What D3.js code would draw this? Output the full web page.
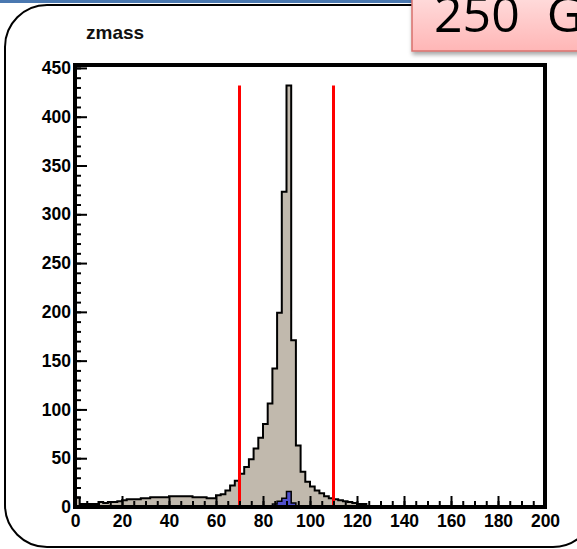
<!DOCTYPE html>
<html>
<head>
<meta charset="UTF-8">
<title>zmass</title>
<style>
  * { margin: 0; padding: 0; }
  body { background: #fff; width: 577px; height: 549px; overflow: hidden; }
  svg { display: block; }
  .tick text { font-family: "Liberation Sans", Arial, sans-serif; font-weight: bold; font-size: 17.5px; fill: #000; }
</style>
</head>
<body>
<svg id="chart" width="577" height="549"></svg>
<script src="https://d3js.org/d3.v7.min.js"></script>
<script>
// bin edges run 0..200 in steps of 2 GeV (100 bins)
const binLow = d3.range(0, 200, 2);
const allEvents = [
  10, 3, 3, 3, 3, 5, 4, 5, 5, 6,
  7, 8, 8, 8, 9, 9, 10, 10, 10, 10,
  11, 11, 11, 11, 11, 10, 10, 10, 9, 9,
  12, 13, 17, 22, 27, 34, 41, 49, 60, 71,
  85, 106, 142, 199, 323, 432, 171, 63, 36, 26,
  21, 17, 14, 11, 9, 8, 7, 6, 5, 4,
  3, 3, 1, 0, 0, 0, 0, 0, 0, 0,
  0, 0, 0, 0, 0, 0, 0, 0, 0, 0,
  0, 0, 0, 0, 0, 0, 0, 0, 0, 0,
  0, 0, 0, 0, 0, 0, 0, 0, 0, 0
];
// signal component, bins 80..96
const signalLow = [80, 82, 84, 86, 88, 90, 92, 94, 96];
const signalEvents = [0, 1, 3, 6, 9, 16, 4, 1, 0];
const cuts = [70, 110];
const xTicks = [0, 20, 40, 60, 80, 100, 120, 140, 160, 180, 200];
const yTicks = [0, 50, 100, 150, 200, 250, 300, 350, 400, 450];
const yMax = 453;
const title = "zmass";
const badge = "250 G";

const svg = d3.select("#chart");

// slide decoration
svg.append("rect").attr("x", 0).attr("y", 0).attr("width", 577).attr("height", 3).attr("fill", "#4a78b0");
const defs = svg.append("defs");
const sh = defs.append("filter").attr("id", "shadow").attr("x", "-10%").attr("y", "-10%").attr("width", "130%").attr("height", "140%");
sh.append("feDropShadow").attr("dx", 1).attr("dy", 3).attr("stdDeviation", 2).attr("flood-color", "#000").attr("flood-opacity", 0.35);
const pink = defs.append("linearGradient").attr("id", "pink").attr("x1", 0).attr("y1", 0).attr("x2", 0).attr("y2", 1);
pink.append("stop").attr("offset", "0%").attr("stop-color", "#ffdcdc");
pink.append("stop").attr("offset", "100%").attr("stop-color", "#ffb6b6");

svg.append("rect")
  .attr("x", 5).attr("y", 5).attr("width", 590).attr("height", 542)
  .attr("rx", 42).attr("ry", 42)
  .attr("fill", "#fff").attr("stroke", "#000").attr("stroke-width", 2);

const m = { left: 75, right: 545, top: 65, bottom: 507 };

const x = d3.scaleLinear().domain([0, 200]).range([m.left, m.right]);
const y = d3.scaleLinear().domain([0, yMax]).range([m.bottom, m.top]);

function steps(lows, vals) {
  const pts = lows.map((b, i) => [b, vals[i]]);
  pts.push([lows[lows.length - 1] + 2, vals[vals.length - 1]]);
  return pts;
}

const area = d3.area().curve(d3.curveStepAfter)
  .x(d => x(d[0])).y0(y(0)).y1(d => y(d[1]));
const line = d3.line().curve(d3.curveStepAfter)
  .x(d => x(d[0])).y(d => y(d[1]));

const total = steps(binLow, allEvents);
svg.append("path").attr("d", area(total)).attr("fill", "#c1b9ad");
svg.append("path").attr("d", line(total)).attr("fill", "none").attr("stroke", "#000").attr("stroke-width", 2);

const sig = steps(signalLow, signalEvents);
svg.append("path").attr("d", area(sig)).attr("fill", "#5050cc");
svg.append("path").attr("d", line(sig)).attr("fill", "none").attr("stroke", "#000").attr("stroke-width", 1.5);

// cut lines
svg.selectAll(".cut").data(cuts).join("line")
  .attr("class", "cut")
  .attr("x1", d => x(d)).attr("x2", d => x(d))
  .attr("y1", y(0)).attr("y2", y(d3.max(allEvents)))
  .attr("stroke", "#ff0000").attr("stroke-width", 3);

// axes, ROOT style ticks inside the frame
const xMinor = svg.append("g").attr("transform", `translate(0,${m.bottom})`)
  .call(d3.axisBottom(x).tickValues(d3.range(0, 201, 5)).tickSize(-6).tickFormat(""));
const xMajor = svg.append("g").attr("transform", `translate(0,${m.bottom})`)
  .call(d3.axisBottom(x).tickValues(xTicks).tickSize(-11).tickPadding(8).tickFormat(d3.format("d")));
const yMinor = svg.append("g").attr("transform", `translate(${m.left},0)`)
  .call(d3.axisLeft(y).tickValues(d3.range(0, 451, 10)).tickSize(-6).tickFormat(""));
const yMajor = svg.append("g").attr("transform", `translate(${m.left},0)`)
  .call(d3.axisLeft(y).tickValues(yTicks).tickSize(-12).tickPadding(4).tickFormat(d3.format("d")));
[xMinor, xMajor, yMinor, yMajor].forEach(g => {
  g.select(".domain").remove();
  g.selectAll(".tick line").attr("stroke", "#000").attr("stroke-width", 2);
});
yMajor.selectAll(".tick text").attr("font-size", 18);

// frame
svg.append("rect")
  .attr("x", m.left).attr("y", m.top)
  .attr("width", m.right - m.left).attr("height", m.bottom - m.top)
  .attr("fill", "none").attr("stroke", "#000").attr("stroke-width", 4);

svg.append("text")
  .attr("x", 86).attr("y", 39)
  .attr("font-family", "Liberation Sans, Arial, sans-serif")
  .attr("font-weight", "bold").attr("font-size", 19)
  .attr("fill", "#111")
  .text(title);

// title badge of the slide
svg.append("rect")
  .attr("x", 412).attr("y", -4).attr("width", 180).attr("height", 55)
  .attr("fill", "url(#pink)").attr("stroke", "#d9706c").attr("stroke-width", 1.5)
  .attr("filter", "url(#shadow)");
svg.append("text")
  .attr("x", 434).attr("y", 32)
  .attr("font-family", "Open Sans, sans-serif")
  .attr("font-size", 50).attr("word-spacing", 14).attr("fill", "#000")
  .text(badge);
</script>
</body>
</html>
